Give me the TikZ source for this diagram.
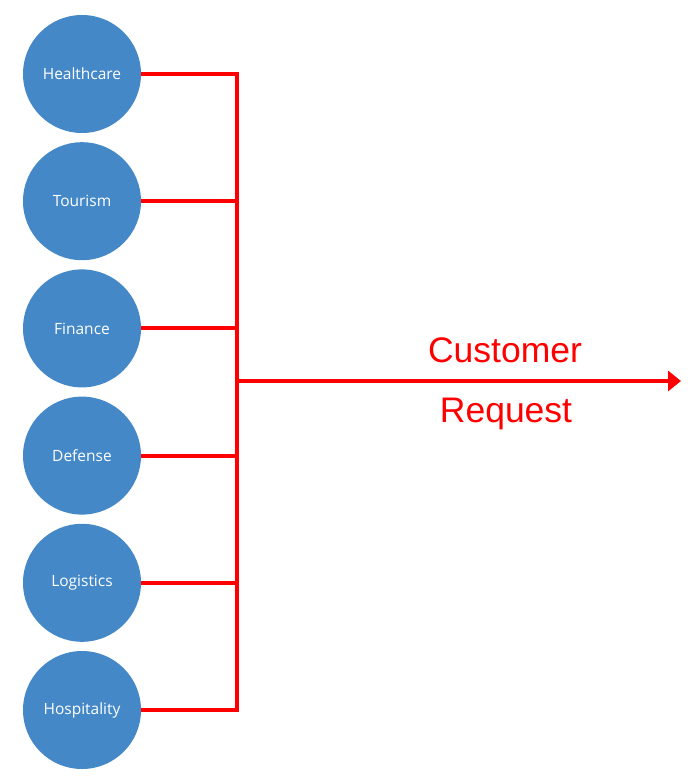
\documentclass[tikz,border=0pt]{standalone}
\usepackage{fontspec}
\setmainfont{Liberation Sans}
\newfontfamily\sectorfont{Open Sans}
\usetikzlibrary{positioning,arrows.meta}
\definecolor{sectorblue}{RGB}{68,136,200}
\definecolor{feedred}{RGB}{255,0,0}

\begin{document}
\begin{tikzpicture}[x=1pt,y=-1pt,
  sector/.style={circle,fill=sectorblue,minimum size=118pt,inner sep=0pt,text=white,font=\sectorfont\fontsize{15.5}{18}\selectfont},
  feed/.style={draw=feedred,line width=4pt},
  reqtext/.style={text=feedred,font=\fontsize{35.5}{40}\selectfont,anchor=base,inner sep=0pt}]
\useasboundingbox (0,0) rectangle (693,783);
\node[sector] (health) at (82,74) {Healthcare};
\node[sector,below=8.8pt of health] (tour) {Tourism};
\node[sector,below=8.8pt of tour] (fin) {Finance};
\node[sector,below=8.8pt of fin] (def) {Defense};
\node[sector,below=8.8pt of def] (logi) {Logistics};
\node[sector,below=8.8pt of logi] (hosp) {Hospitality};
\coordinate (join) at (237,381);
\coordinate (tip) at (681,381);
% branches into the bus
\draw[feed] (health.east) -- (health.east -| join);
\draw[feed] (tour.east) -- (tour.east -| join);
\draw[feed] (fin.east) -- (fin.east -| join);
\draw[feed] (def.east) -- (def.east -| join);
\draw[feed] (logi.east) -- (logi.east -| join);
\draw[feed] (hosp.east) -- (hosp.east -| join);
\draw[feed,line cap=rect] (health.east -| join) -- (hosp.east -| join);
\draw[feed,-{Triangle[length=13pt,width=20pt]}] (join) -- (tip);
\node[reqtext] (cust) at (505,362) {Customer};
\node[reqtext] (req) at (506,422) {Request};
\end{tikzpicture}
\end{document}
